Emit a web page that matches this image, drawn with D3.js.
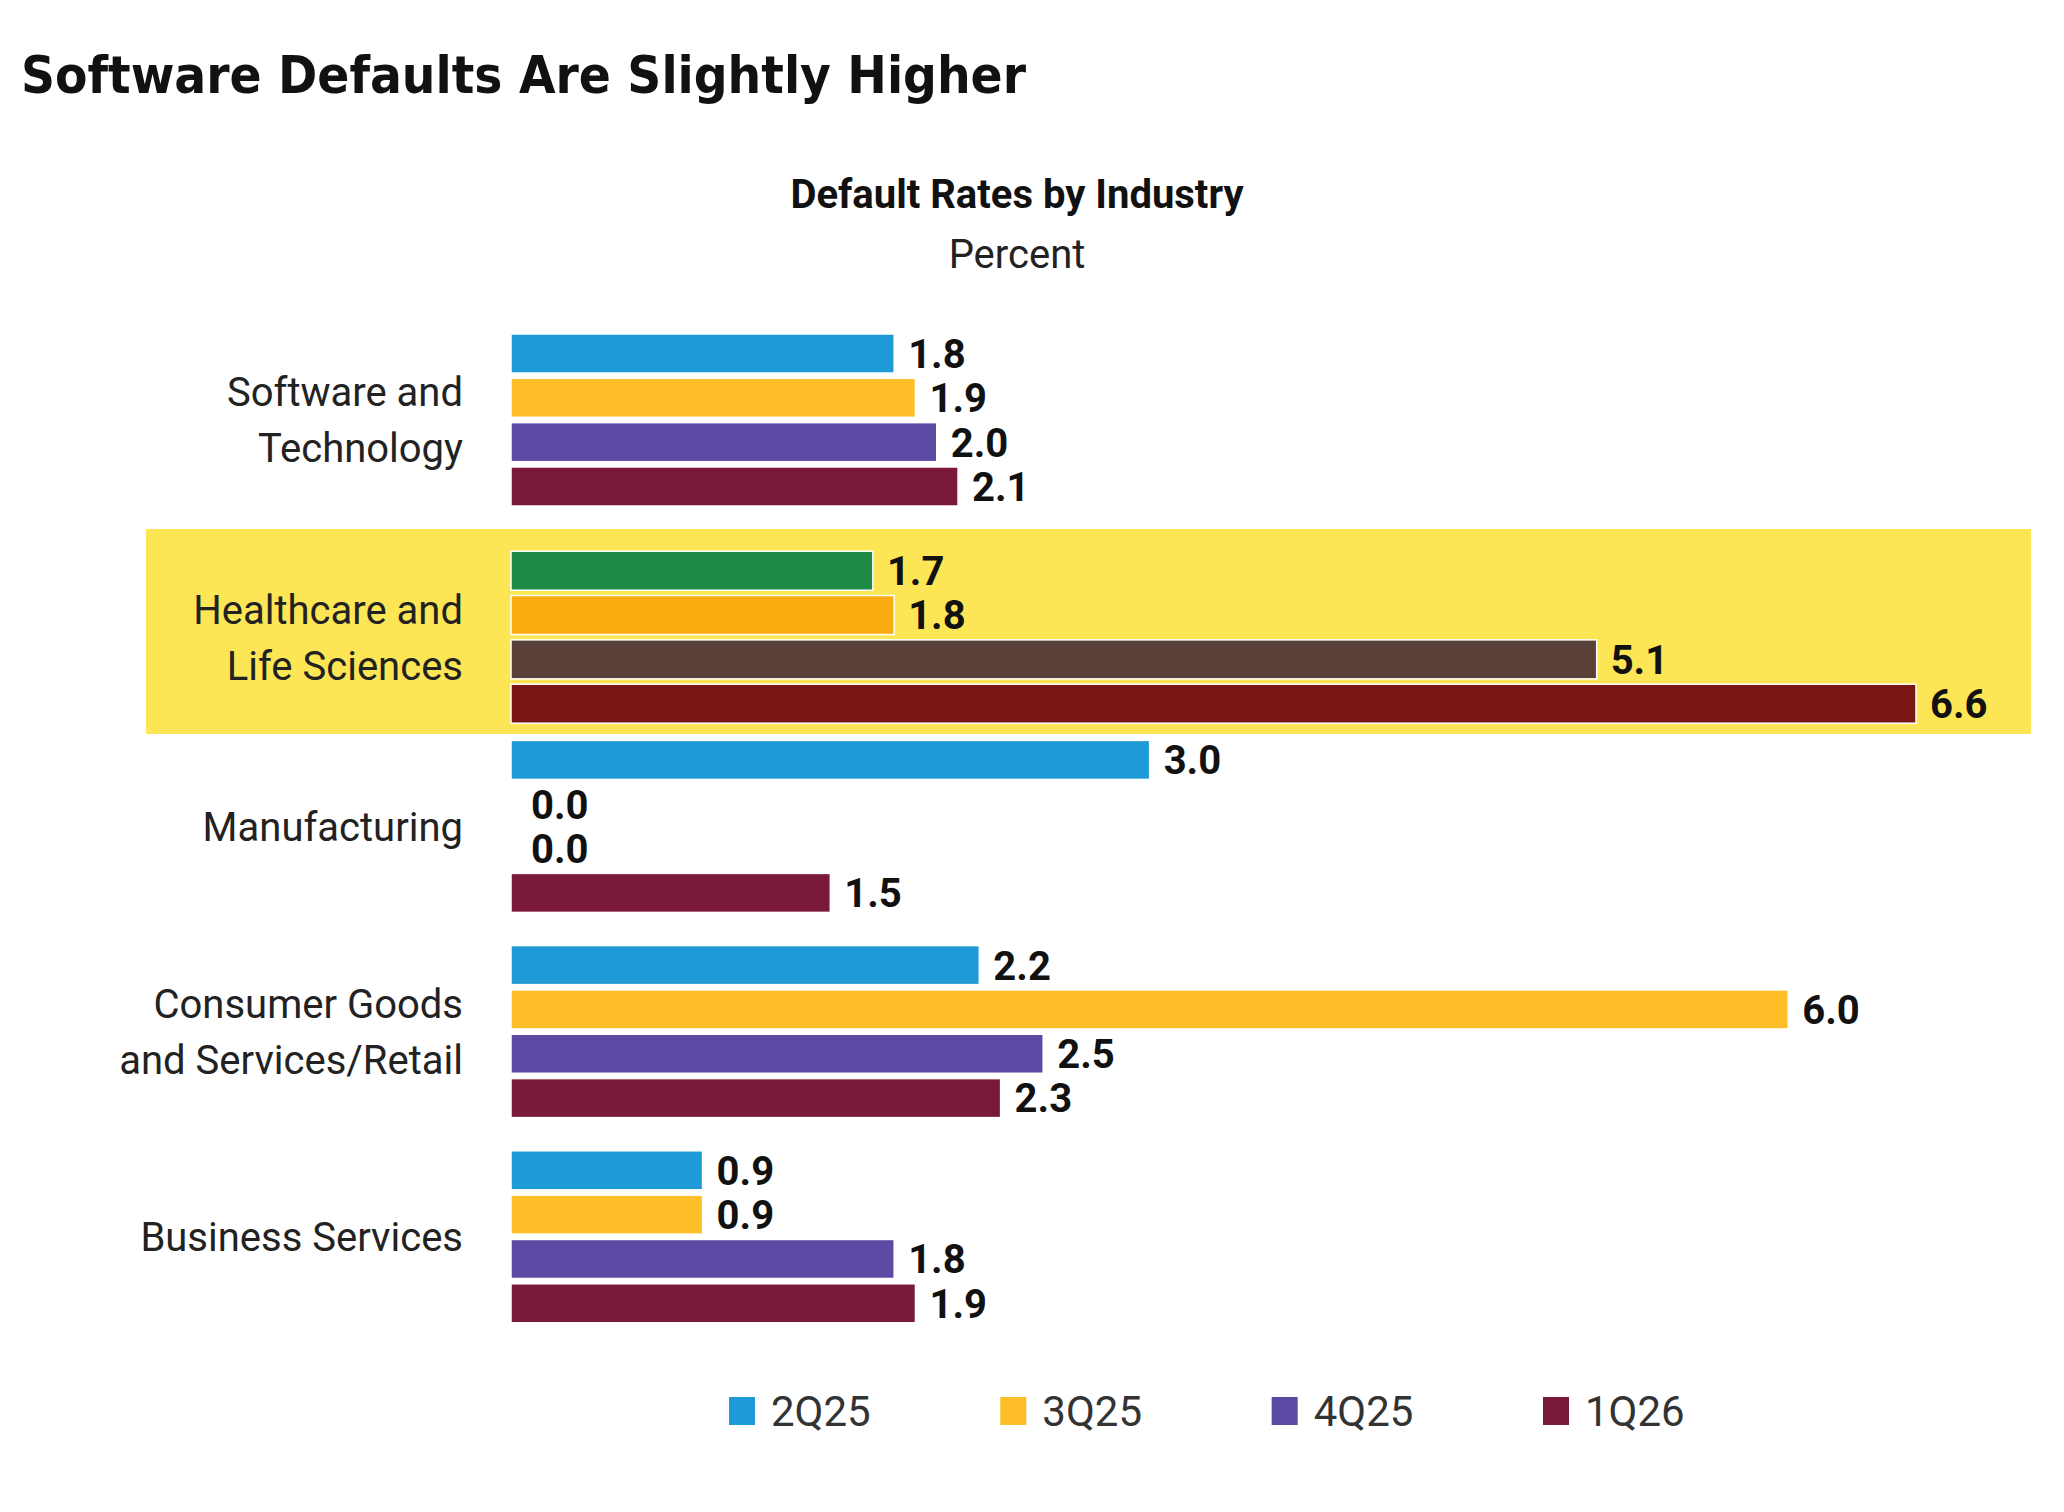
<!DOCTYPE html>
<html><head><meta charset="utf-8">
<script src="https://cdn.jsdelivr.net/npm/d3@7"></script>
<style>body{margin:0;background:#fff}</style></head>
<body><svg id="c" width="2064" height="1512"></svg>
<script>
const categories = [["Software and","Technology"],["Healthcare and","Life Sciences"],["Manufacturing"],["Consumer Goods","and Services/Retail"],["Business Services"]];
const seriesNames = ["2Q25","3Q25","4Q25","1Q26"];
const values = [
  [1.8,1.9,2.0,2.1],
  [1.7,1.8,5.1,6.6],
  [3.0,0.0,0.0,1.5],
  [2.2,6.0,2.5,2.3],
  [0.9,0.9,1.8,1.9]
];
const seriesColors = ["#1e9ad6","#fdbe27","#5b49a4","#7b1a38"];
const highlightColors = ["#1e8c47","#f8ac10","#594038","#771614"];
const highlightIndex = 1;

const svg = d3.select("#c");
const x = d3.scaleLinear().domain([0,6.6]).range([511,1916]);
const y0 = d3.scaleBand().domain(d3.range(categories.length)).range([334,1360]).paddingInner(0).paddingOuter(0);
const y1 = d3.scaleBand().domain(d3.range(4)).range([0,172]).paddingInner(0.12).paddingOuter(0);

svg.append("text").attr("x",21).attr("y",93).attr("font-family","DejaVu Sans Condensed, DejaVu Sans").attr("font-weight","bold")
  .attr("font-size",52).attr("textLength",1005).attr("lengthAdjust","spacingAndGlyphs").attr("fill","#111").text("Software Defaults Are Slightly Higher");
svg.append("text").attr("x",1017).attr("y",208).attr("text-anchor","middle").attr("font-family","Roboto").attr("font-weight","bold")
  .attr("font-size",40).attr("fill","#111").text("Default Rates by Industry");
svg.append("text").attr("x",1017).attr("y",268).attr("text-anchor","middle").attr("font-family","Roboto")
  .attr("font-size",40).attr("fill","#222").text("Percent");

// highlight band
svg.append("rect").attr("x",146).attr("y",529).attr("width",1885).attr("height",205).attr("fill","#fde655");

const g = svg.selectAll("g.cat").data(values).join("g").attr("transform",(d,i)=>`translate(0,${y0(i)+(i===highlightIndex?12:0)+(i>=2?-4:0)})`);
g.each(function(d,i){
  const gg=d3.select(this);
  const cols = i===highlightIndex?highlightColors:seriesColors;
  gg.selectAll("rect").data(d).join("rect")
    .attr("x",x(0)).attr("y",(v,j)=>y1(j)).attr("height",y1.bandwidth())
    .attr("width",v=>x(v)-x(0)).attr("fill",(v,j)=>cols[j]).attr("stroke",v=>v>0?"#fff":"none").attr("stroke-width",1.5);
  gg.selectAll("text.v").data(d).join("text").attr("class","v")
    .attr("x",v=>x(v)+(v>0?14:20)).attr("y",(v,j)=>y1(j)+y1.bandwidth()/2).attr("dy","0.36em")
    .attr("font-family","Roboto").attr("font-weight","bold").attr("font-size",40).attr("fill","#111")
    .text(v=>v.toFixed(1));
  const lines=categories[i];
  const lh=56, cy=y1.range()[1]/2;
  gg.selectAll("text.c").data(lines).join("text").attr("class","c")
    .attr("x",463).attr("y",(t,k)=>cy+(k-(lines.length-1)/2)*lh).attr("dy","0.36em")
    .attr("text-anchor","end").attr("font-family","Roboto").attr("font-size",40).attr("fill","#222").text(t=>t);
});

const lx = d3.scalePoint().domain(seriesNames).range([729,1543]);
const lg = svg.selectAll("g.leg").data(seriesNames).join("g").attr("transform",d=>`translate(${lx(d)},1397)`);
lg.append("rect").attr("width",26).attr("height",28).attr("fill",(d,i)=>seriesColors[i]);
lg.append("text").attr("x",42).attr("y",14).attr("dy","0.36em").attr("font-family","Roboto").attr("font-size",42).attr("fill","#333").text(d=>d);
</script></body></html>
